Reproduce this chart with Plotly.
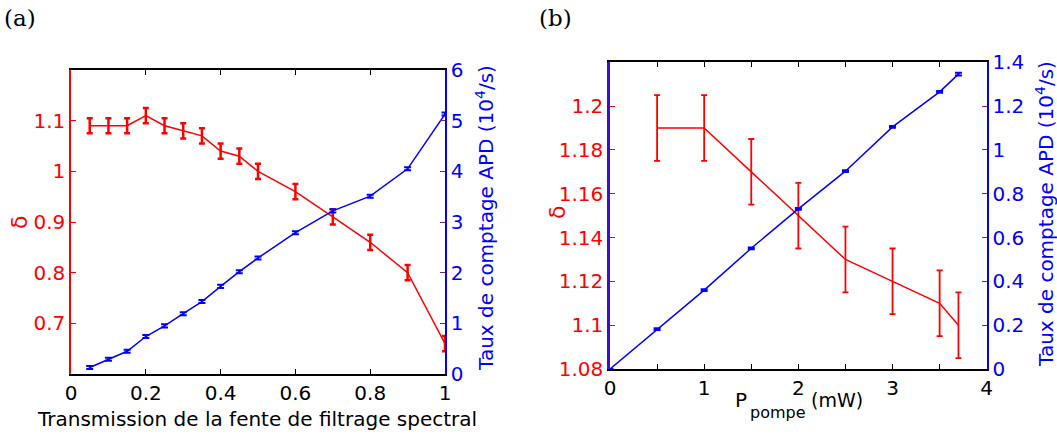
import plotly.graph_objects as go

# ---------- data (a) ----------
trans = [0.05, 0.1, 0.15, 0.2, 0.25, 0.3, 0.35, 0.4, 0.45, 0.5, 0.6, 0.7, 0.8, 0.9, 1.0]
delta_a = [1.09, 1.09, 1.09, 1.11, 1.09, 1.08, 1.07, 1.04, 1.03, 1.00, 0.96, 0.91, 0.86, 0.80, 0.66]
delta_a_err = [0.015] * 15
rate_a = [0.13, 0.29, 0.45, 0.74, 0.95, 1.19, 1.43, 1.73, 2.02, 2.29, 2.79, 3.22, 3.51, 4.05, 5.13]
rate_a_err = [0.03] * 15

# ---------- data (b) ----------
p_delta = [0.5, 1.0, 1.5, 2.0, 2.5, 3.0, 3.5, 3.7]
delta_b = [1.19, 1.19, 1.17, 1.15, 1.13, 1.12, 1.11, 1.10]
delta_b_err = [0.015] * 8
p_rate = [0.0, 0.5, 1.0, 1.5, 2.0, 2.5, 3.0, 3.5, 3.7]
rate_b = [0.0, 0.182, 0.36, 0.551, 0.731, 0.903, 1.105, 1.265, 1.346]
rate_b_err = [0.0, 0.004, 0.004, 0.004, 0.004, 0.004, 0.004, 0.004, 0.006]

RED = "#ff0000"
BLUE = "#0000ff"
FONT = "DejaVu Sans, Verdana, sans-serif"
TS = 20

fig = go.Figure()

fig.add_trace(go.Scatter(
    x=trans, y=delta_a, mode="lines", line=dict(color=RED, width=1.5),
    error_y=dict(type="data", array=delta_a_err, color=RED, thickness=2.5, width=3),
    xaxis="x", yaxis="y", showlegend=False))
fig.add_trace(go.Scatter(
    x=trans, y=rate_a, mode="lines", line=dict(color=BLUE, width=1.5),
    error_y=dict(type="data", array=rate_a_err, color=BLUE, thickness=2, width=3.5),
    xaxis="x", yaxis="y2", showlegend=False))

fig.add_trace(go.Scatter(
    x=p_delta, y=delta_b, mode="lines", line=dict(color=RED, width=1.5),
    error_y=dict(type="data", array=delta_b_err, color=RED, thickness=1.8, width=3),
    xaxis="x2", yaxis="y3", showlegend=False))
fig.add_trace(go.Scatter(
    x=p_rate, y=rate_b, mode="lines", line=dict(color=BLUE, width=1.5),
    error_y=dict(type="data", array=rate_b_err, color=BLUE, thickness=2, width=3.5),
    xaxis="x2", yaxis="y4", showlegend=False))

common_x = dict(showgrid=False, zeroline=False, ticks="inside", ticklen=5,
                linecolor="black", linewidth=1.5, mirror="ticks", tickcolor="black",
                tickfont=dict(family=FONT, size=TS, color="black"))

fig.update_layout(
    width=1057, height=439,
    margin=dict(l=0, r=0, t=0, b=0, autoexpand=False),
    paper_bgcolor="white", plot_bgcolor="white",
    xaxis=dict(domain=[0.0672, 0.421], range=[0, 1], tickvals=[0, 0.2, 0.4, 0.6, 0.8, 1],
               ticktext=["0", "0.2", "0.4", "0.6", "0.8", "1"], anchor="y", automargin=False, **common_x),
    yaxis=dict(domain=[0.148, 0.8405], range=[0.6, 1.2], tickvals=[0.7, 0.8, 0.9, 1.0, 1.1],
               ticktext=["0.7", "0.8", "0.9", "1", "1.1"], automargin=False,
               showgrid=False, zeroline=False, ticks="inside", ticklen=5,
               linecolor=RED, linewidth=1.5, tickcolor=RED, showline=True,
               tickfont=dict(family=FONT, size=TS, color=RED), anchor="x"),
    yaxis2=dict(domain=[0.148, 0.8405], range=[0, 6], tickvals=[0, 1, 2, 3, 4, 5, 6],
                overlaying="y", side="right", anchor="x", automargin=False,
                showgrid=False, zeroline=False, ticks="inside", ticklen=5,
                linecolor=BLUE, linewidth=1.5, tickcolor="#6a1fa0", showline=True,
                tickfont=dict(family=FONT, size=TS, color=BLUE)),
    xaxis2=dict(domain=[0.5771, 0.9335], range=[0, 4],
                tickvals=[0, 0.5, 1, 1.5, 2, 2.5, 3, 3.5, 4],
                ticktext=["0", "", "1", "", "2", "", "3", "", "4"], anchor="y3",
                automargin=False, **common_x),
    yaxis3=dict(domain=[0.1595, 0.858], range=[1.08, 1.22],
                tickvals=[1.08, 1.10, 1.12, 1.14, 1.16, 1.18, 1.20],
                ticktext=["1.08", "1.1", "1.12", "1.14", "1.16", "1.18", "1.2"],
                showgrid=False, zeroline=False, ticks="inside", ticklen=5, automargin=False,
                linecolor="#3a10d0", linewidth=2.5, tickcolor=RED, showline=True,
                tickfont=dict(family=FONT, size=TS, color=RED), anchor="x2"),
    yaxis4=dict(domain=[0.1595, 0.858], range=[0, 1.4],
                tickvals=[0, 0.2, 0.4, 0.6, 0.8, 1.0, 1.2, 1.4],
                ticktext=["0", "0.2", "0.4", "0.6", "0.8", "1", "1.2", "1.4"],
                overlaying="y3", side="right", anchor="x2", automargin=False,
                showgrid=False, zeroline=False, ticks="inside", ticklen=5,
                linecolor=BLUE, linewidth=1.5, tickcolor="#6a1fa0", showline=True,
                tickfont=dict(family=FONT, size=TS, color=BLUE)),
)

def px_x(p):
    return p / 1057.0

def px_y(p):
    return 1 - p / 439.0

C = dict(xanchor="center", yanchor="middle")
L = dict(xanchor="left", yanchor="middle")
annotations = [
    dict(text="(a)", x=px_x(20), y=px_y(18), font=dict(family="DejaVu Serif, serif", size=23, color="black"), **C),
    dict(text="(b)", x=px_x(555), y=px_y(18), font=dict(family="DejaVu Serif, serif", size=23, color="black"), **C),
    dict(text="δ", x=px_x(19), y=px_y(223), textangle=-90, font=dict(family=FONT, size=22, color=RED), **C),
    dict(text="δ", x=px_x(557), y=px_y(213), textangle=-90, font=dict(family=FONT, size=22, color=RED), **C),
    dict(text="Taux de comptage APD (10<sup>4</sup>/s)", x=px_x(485), y=px_y(218), textangle=-90,
         font=dict(family=FONT, size=20, color=BLUE), **C),
    dict(text="Taux de comptage APD (10<sup>4</sup>/s)", x=px_x(1045), y=px_y(214), textangle=-90,
         font=dict(family=FONT, size=20, color=BLUE), **C),
    dict(text="Transmission de la fente de filtrage spectral", x=px_x(257), y=px_y(419),
         font=dict(family=FONT, size=20, color="black"), **C),
    dict(text="P", x=px_x(733), y=px_y(400), font=dict(family=FONT, size=20, color="black"), **L),
    dict(text="pompe", x=px_x(748), y=px_y(412), font=dict(family=FONT, size=16, color="black"), **L),
    dict(text="(mW)", x=px_x(809), y=px_y(400), font=dict(family=FONT, size=19, color="black"), **L),
]
for a in annotations:
    a.update(xref="paper", yref="paper", showarrow=False)
fig.update_layout(annotations=annotations)

fig.write_html("out.html", config={"displayModeBar": False},
               post_script="document.body.style.margin='0';document.body.style.padding='0';")
